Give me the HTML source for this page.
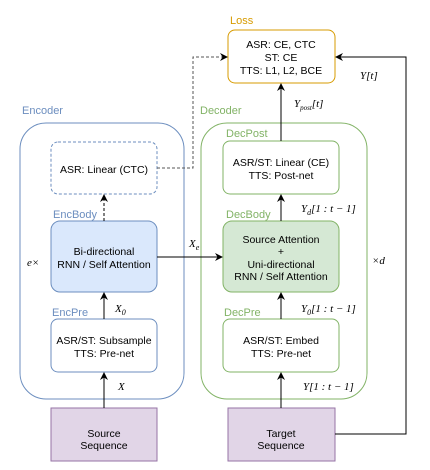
<!DOCTYPE html>
<html><head><style>
body{margin:0;background:#fff;}
svg{display:block;}
svg text{font-family:"Liberation Sans",Arial,sans-serif;}
svg text.m{font-family:"Liberation Serif","Times New Roman",serif;font-style:italic;font-size:11px;}
</style></head><body>
<svg width="430" height="470" viewBox="0 0 430 470" xmlns="http://www.w3.org/2000/svg" font-family="Liberation Sans, sans-serif">
<defs>
<marker id="a" markerWidth="8" markerHeight="8" refX="7" refY="4" orient="auto" markerUnits="userSpaceOnUse">
<path d="M0,0 L8,4 L0,8 L2.5,4 Z" fill="#000"/></marker>
</defs>
<rect x="20" y="123" width="164" height="276" rx="26" fill="none" stroke="#6c8ebf"/>
<rect x="201" y="123" width="166" height="276" rx="26" fill="none" stroke="#82b366"/>
<g font-size="11">
<text x="22" y="114" fill="#6c8ebf">Encoder</text>
<text x="200" y="114" fill="#82b366">Decoder</text>
<text x="230" y="24" fill="#d79b00">Loss</text>
<text x="53" y="218" fill="#6c8ebf">EncBody</text>
<text x="52" y="316" fill="#6c8ebf">EncPre</text>
<text x="226" y="137" fill="#82b366">DecPost</text>
<text x="226" y="218" fill="#82b366">DecBody</text>
<text x="224" y="316" fill="#82b366">DecPre</text>
</g>
<rect x="51" y="142" width="106" height="52" rx="7" fill="#fff" stroke="#6c8ebf" stroke-dasharray="3,2"/>
<rect x="51" y="221" width="106" height="71" rx="9" fill="#dae8fc" stroke="#6c8ebf"/>
<rect x="51" y="319" width="106" height="53" rx="7" fill="#fff" stroke="#6c8ebf"/>
<rect x="51" y="408" width="106" height="53" fill="#e1d5e7" stroke="#9673a6"/>
<rect x="228" y="30" width="107" height="53" rx="7" fill="#fff" stroke="#d79b00"/>
<rect x="223" y="141" width="116" height="53" rx="7" fill="#fff" stroke="#82b366"/>
<rect x="223" y="221" width="116" height="71" rx="9" fill="#d5e8d4" stroke="#82b366"/>
<rect x="223" y="319" width="116" height="53" rx="7" fill="#fff" stroke="#82b366"/>
<rect x="228" y="408" width="107" height="53" fill="#e1d5e7" stroke="#9673a6"/>
<g font-size="10.5" text-anchor="middle" fill="#000">
<text x="104" y="173">ASR: Linear (CTC)</text>
<text x="104" y="255">Bi-directional</text>
<text x="104" y="268">RNN / Self Attention</text>
<text x="104" y="344">ASR/ST: Subsample</text>
<text x="104" y="357">TTS: Pre-net</text>
<text x="104" y="437">Source</text>
<text x="104" y="449">Sequence</text>
<text x="281" y="48">ASR: CE, CTC</text>
<text x="281" y="61">ST: CE</text>
<text x="281" y="74">TTS: L1, L2, BCE</text>
<text x="281" y="166">ASR/ST: Linear (CE)</text>
<text x="281" y="179">TTS: Post-net</text>
<text x="281" y="243">Source Attention</text>
<text x="281" y="255">+</text>
<text x="281" y="268">Uni-directional</text>
<text x="281" y="280">RNN / Self Attention</text>
<text x="281" y="344">ASR/ST: Embed</text>
<text x="281" y="357">TTS: Pre-net</text>
<text x="281" y="437">Target</text>
<text x="281" y="449">Sequence</text>
</g>
<g stroke="#000" fill="none" stroke-width="1">
<line x1="104" y1="408" x2="104" y2="373" marker-end="url(#a)"/>
<line x1="104" y1="319" x2="104" y2="293" marker-end="url(#a)"/>
<line x1="104" y1="221" x2="104" y2="195" stroke-dasharray="3,2" marker-end="url(#a)"/>
<line x1="157" y1="257" x2="222" y2="257" marker-end="url(#a)"/>
<polyline points="157,168 193,168 193,57 227,57" stroke="#555" stroke-dasharray="3,2" marker-end="url(#a)"/>
<line x1="281" y1="408" x2="281" y2="373" marker-end="url(#a)"/>
<line x1="281" y1="319" x2="281" y2="293" marker-end="url(#a)"/>
<line x1="281" y1="221" x2="281" y2="195" marker-end="url(#a)"/>
<line x1="281" y1="141" x2="281" y2="84" marker-end="url(#a)"/>
<polyline points="335,434 406,434 406,57 336,57" marker-end="url(#a)"/>
</g>
<g font-family="Liberation Serif, serif" font-style="italic" font-size="11">
<text class="m" x="118" y="390">X</text>
<text class="m" x="115" y="312">X<tspan font-size="8" dy="3">0</tspan></text>
<text class="m" x="27" y="266">e×</text>
<text class="m" x="189" y="247">X<tspan font-size="8" dy="3">e</tspan></text>
<text class="m" x="360" y="79">Y[t]</text>
<text class="m" x="294" y="107">Y<tspan font-size="7" dy="3">post</tspan><tspan dy="-3">[t]</tspan></text>
<text class="m" x="301" y="212">Y<tspan font-size="8" dy="3">d</tspan><tspan dy="-3">[1 : t − 1]</tspan></text>
<text class="m" x="301" y="312">Y<tspan font-size="8" dy="3">0</tspan><tspan dy="-3">[1 : t − 1]</tspan></text>
<text class="m" x="303" y="390">Y[1 : t − 1]</text>
<text class="m" x="372" y="264">×d</text>
</g>
</svg>
</body></html>
